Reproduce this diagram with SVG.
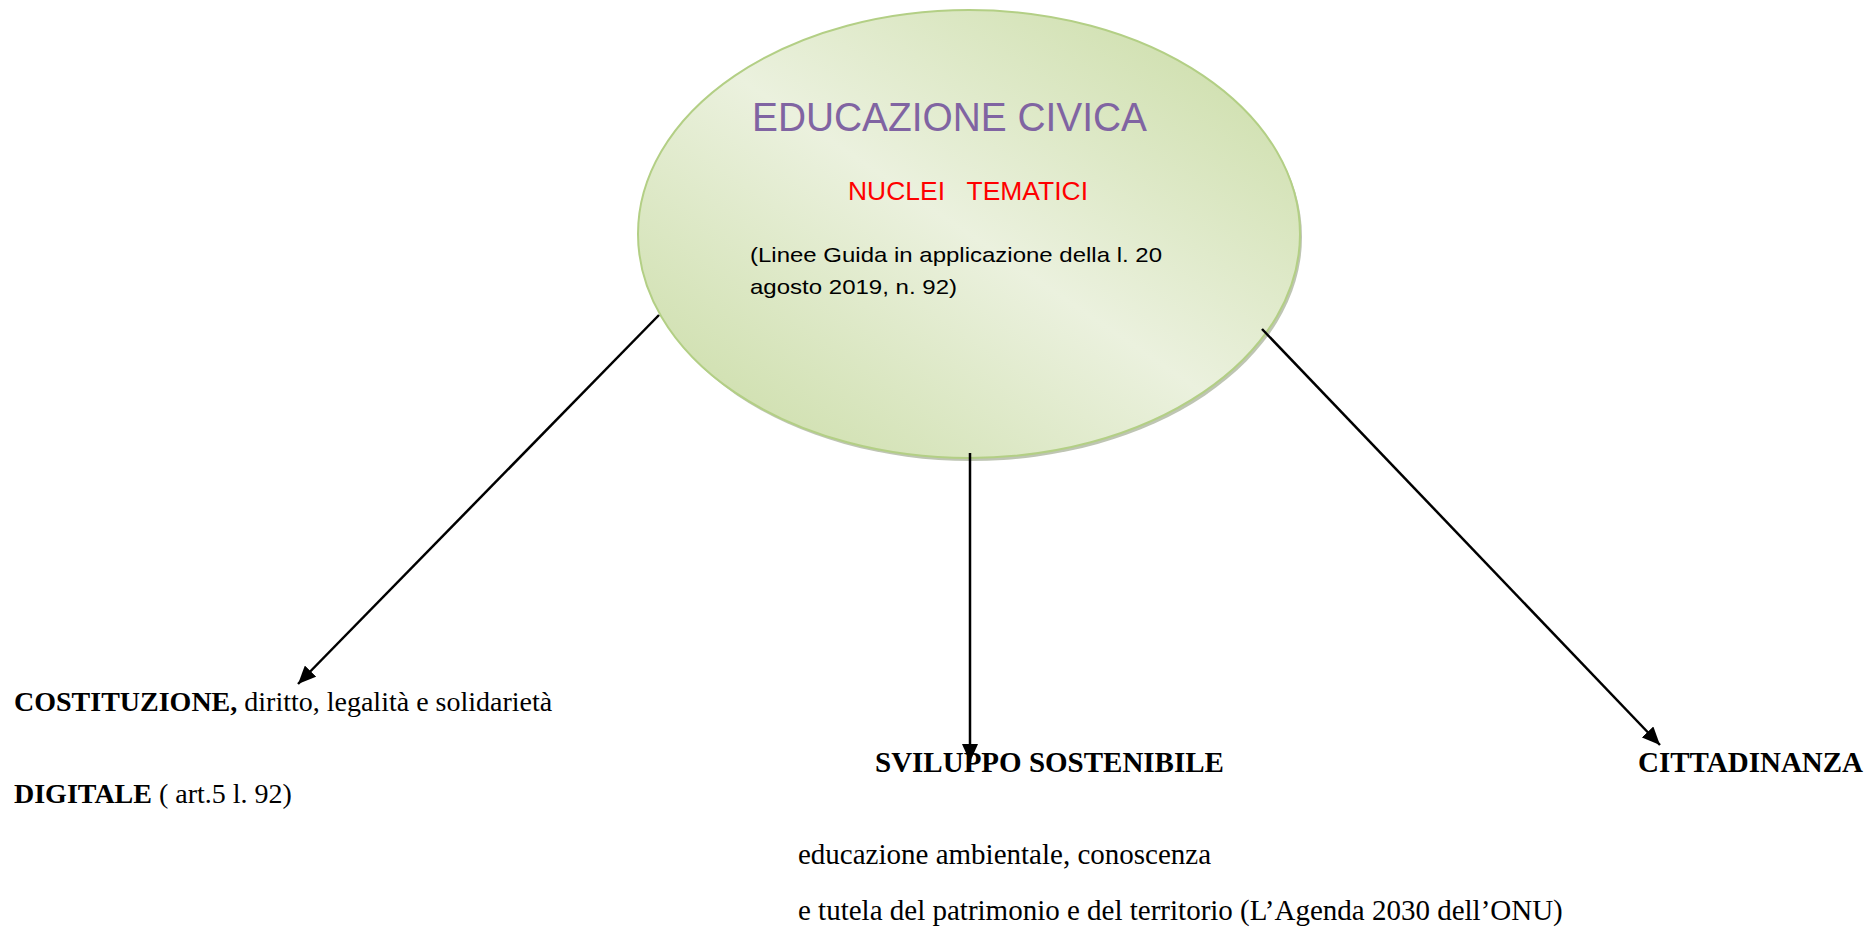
<svg xmlns="http://www.w3.org/2000/svg" width="1870" height="932" viewBox="0 0 1870 932">
<style>
.serif{font-family:"Liberation Serif","Times New Roman",serif;font-size:28px;fill:#000}
.s29{font-size:29px}
.b{font-weight:bold}
.cal{font-family:"Liberation Sans",Arial,sans-serif}
.conn{stroke:#000;stroke-width:2.5;fill:none;marker-end:url(#arr)}
</style>
<defs>
<linearGradient id="g" x1="1" y1="0" x2="0" y2="1">
<stop offset="0" stop-color="#c8dba2"/>
<stop offset="0.5" stop-color="#ebf1de"/>
<stop offset="1" stop-color="#c8dba2"/>
</linearGradient>
<marker id="arr" viewBox="0 0 18 16" refX="18" refY="8" markerWidth="18" markerHeight="16" markerUnits="userSpaceOnUse" orient="auto">
<path d="M0,0 L18,8 L0,16 z" fill="#000"/>
</marker>
</defs>
<rect width="1870" height="932" fill="#fff"/>
<g id="node-educazione">
<ellipse cx="971" cy="237" rx="331" ry="224" fill="#a3ad93" opacity="0.7"/>
<ellipse cx="969" cy="234" rx="331" ry="224" fill="url(#g)" stroke="#b3cf85" stroke-width="2"/>
<text x="752" y="131" class="cal" font-size="41" fill="#8064a2" textLength="395" lengthAdjust="spacingAndGlyphs">EDUCAZIONE CIVICA</text>
<text x="848" y="200" class="cal" font-size="26" fill="#ff0000" textLength="240" lengthAdjust="spacingAndGlyphs" xml:space="preserve">NUCLEI   TEMATICI</text>
<text x="750" y="262" class="cal" font-size="21" fill="#000" textLength="412" lengthAdjust="spacingAndGlyphs">(Linee Guida in applicazione della l. 20</text>
<text x="750" y="294" class="cal" font-size="21" fill="#000" textLength="207" lengthAdjust="spacingAndGlyphs">agosto 2019, n. 92)</text>
</g>
<g id="connectors">
<line class="conn" x1="659" y1="315" x2="298" y2="684"/>
<line class="conn" x1="970" y1="453" x2="970" y2="762"/>
<line class="conn" x1="1262" y1="329" x2="1660" y2="745"/>
</g>
<g id="node-costituzione">
<text x="14" y="711" class="serif"><tspan class="b">COSTITUZIONE,</tspan> diritto, legalità e solidarietà</text>
<text x="14" y="803" class="serif"><tspan class="b">DIGITALE</tspan> ( art.5 l. 92)</text>
</g>
<g id="node-sviluppo">
<text x="875" y="772" class="serif s29 b">SVILUPPO SOSTENIBILE</text>
<text x="798" y="864" class="serif s29">educazione ambientale, conoscenza</text>
<text x="798" y="920" class="serif s29">e tutela del patrimonio e del territorio (L’Agenda 2030 dell’ONU)</text>
</g>
<g id="node-cittadinanza">
<text x="1638" y="772" class="serif s29 b">CITTADINANZA</text>
</g>
</svg>
